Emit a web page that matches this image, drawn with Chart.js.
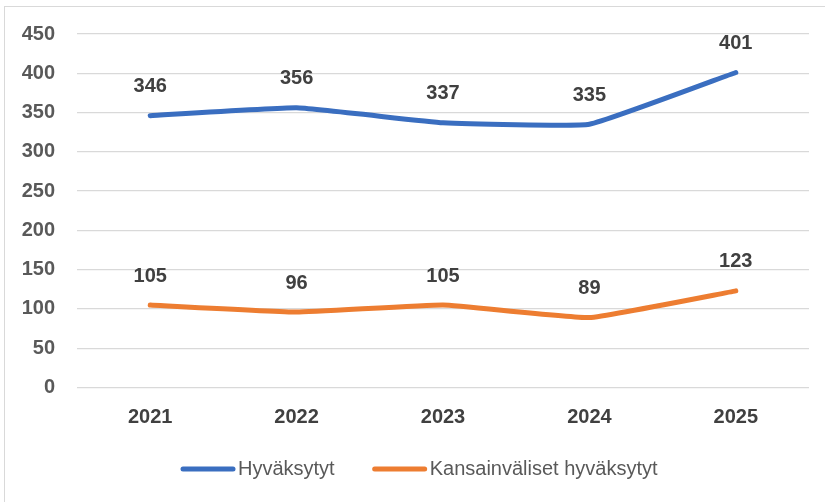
<!DOCTYPE html>
<html>
<head>
<meta charset="utf-8">
<script src="https://cdn.jsdelivr.net/npm/chart.js@4/dist/chart.umd.min.js"></script>
<style>
  html, body { margin: 0; padding: 0; background: #fff; }
  #wrap { position: relative; width: 825px; height: 502px; }
  #frame {
    position: absolute; left: 4px; top: 6px; right: 0; bottom: 0;
    border-left: 1px solid #d9d9d9; border-top: 1px solid #d9d9d9;
    pointer-events: none;
  }
</style>
</head>
<body>
<div id="wrap">
  <canvas id="chart" width="825" height="502"></canvas>
  <div id="frame"></div>
</div>
<script>
let years = ["2021", "2022", "2023", "2024", "2025"];
let accepted = [346, 356, 337, 335, 401];
let international = [105, 96, 105, 89, 123];
let seriesNames = ["Hyväksytyt", "Kansainväliset hyväksytyt"];
let seriesColors = ["#3A6EC0", "#ED7D31"];

const FONT = "'Liberation Sans', Arial, sans-serif";

// value labels above each point
const valueLabels = {
  id: "valueLabels",
  afterDatasetsDraw(chart) {
    const ctx = chart.ctx;
    ctx.save();
    ctx.font = "bold 20px " + FONT;
    ctx.fillStyle = "#404040";
    ctx.textAlign = "center";
    ctx.textBaseline = "middle";
    chart.data.datasets.forEach((ds, i) => {
      chart.getDatasetMeta(i).data.forEach((pt, j) => {
        ctx.fillText(ds.data[j], pt.x, pt.y - 29);
      });
    });
    ctx.restore();
  }
};

// legend drawn by hand so the swatch/text spacing matches
const bottomLegend = {
  id: "bottomLegend",
  afterDraw(chart) {
    const ctx = chart.ctx;
    ctx.save();
    ctx.font = "20px " + FONT;
    ctx.textBaseline = "middle";
    let x = 181;
    const y = 469;
    chart.data.datasets.forEach((ds) => {
      ctx.strokeStyle = ds.borderColor;
      ctx.lineWidth = 5;
      ctx.lineCap = "round";
      ctx.beginPath();
      ctx.moveTo(x + 2, y);
      ctx.lineTo(x + 52, y);
      ctx.stroke();
      ctx.fillStyle = "#595959";
      ctx.fillText(ds.label, x + 57, y);
      x += 57 + ctx.measureText(ds.label).width + 38;
    });
    ctx.restore();
  }
};

const ctx = document.getElementById("chart").getContext("2d");
new Chart(ctx, {
  type: "line",
  data: {
    labels: years,
    datasets: [
      {
        label: seriesNames[0],
        data: accepted,
        borderColor: seriesColors[0],
        backgroundColor: seriesColors[0],
        borderWidth: 5,
        borderCapStyle: "round",
        pointRadius: 0,
        tension: 0.1
      },
      {
        label: seriesNames[1],
        data: international,
        borderColor: seriesColors[1],
        backgroundColor: seriesColors[1],
        borderWidth: 5,
        borderCapStyle: "round",
        pointRadius: 0,
        tension: 0.1
      }
    ]
  },
  options: {
    responsive: false,
    animation: false,
    layout: { padding: { top: 33, right: 16, left: 0, bottom: 0 } },
    plugins: {
      legend: { display: false },
      tooltip: { enabled: false }
    },
    scales: {
      x: {
        offset: true,
        grid: { display: false, drawTicks: false, offset: true },
        border: { display: false },
        ticks: {
          padding: 18,
          color: "#404040",
          font: { family: FONT, size: 20, weight: "bold" }
        },
        afterFit(scale) { scale.height = 114.5; }
      },
      y: {
        min: 0,
        max: 450,
        grid: { color: "#d9d9d9", lineWidth: 1.3, drawTicks: false },
        border: { display: false },
        ticks: {
          stepSize: 50,
          padding: 22,
          color: "#595959",
          font: { family: FONT, size: 20, weight: "bold" }
        },
        afterFit(scale) { scale.width = 77; }
      }
    }
  },
  plugins: [valueLabels, bottomLegend]
});
</script>
</body>
</html>
